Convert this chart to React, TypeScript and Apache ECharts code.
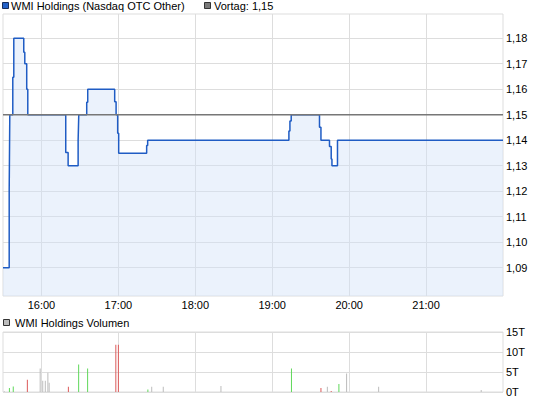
import { useEffect, useRef } from "react";
import * as echarts from "echarts";

// Intraday quotes (time of change, price after the change)
const priceTimes = [
  "15:30:00", "15:34:50", "15:35:18", "15:37:38", "15:38:25", "15:46:12", "15:47:00",
  "15:48:30", "15:49:20", "16:18:56", "16:20:48", "16:28:36", "16:29:06", "16:35:18",
  "16:36:05", "16:57:07", "16:58:13", "16:59:27", "17:00:14", "17:22:03", "17:22:50",
  "19:13:00", "19:13:48", "19:14:48", "19:36:52", "19:38:00", "19:44:40", "19:46:00",
  "19:46:35", "19:50:54", "22:00:00",
];
const priceValues = [
  1.09, 1.12, 1.15, 1.1647, 1.18, 1.1745, 1.17,
  1.16, 1.15, 1.1352, 1.13, 1.14, 1.15, 1.1549,
  1.16, 1.1551, 1.15, 1.1427, 1.1349, 1.1379, 1.14,
  1.1436, 1.1475, 1.15, 1.1451, 1.14, 1.1375, 1.1326,
  1.13, 1.14, 1.14,
];
const previousClose = 1.15;
const priceTicks = [1.09, 1.1, 1.11, 1.12, 1.13, 1.14, 1.15, 1.16, 1.17, 1.18];
const priceRange = [1.0789, 1.1895];

// Traded volume per minute; move: u = up tick, d = down tick, n = unchanged
const volumeTimes = [
  "15:31", "15:35", "15:38", "15:49", "15:59", "16:01", "16:03", "16:05", "16:06",
  "16:21", "16:29", "16:36", "16:58", "17:00", "17:23", "17:26", "17:35", "18:20",
  "19:15", "19:38", "19:43", "19:46", "19:52", "19:58", "20:23", "21:43",
];
const volumeValues = [
  200, 1000, 1350, 3050, 5850, 2800, 2800, 4800, 2300,
  1300, 6900, 5850, 11800, 11800, 600, 1300, 1300, 1500,
  5850, 1000, 1300, 250, 2000, 4600, 1300, 500,
];
const volumeMoves = [
  "n", "u", "u", "d", "n", "n", "n", "n", "n",
  "d", "u", "u", "d", "d", "u", "n", "n", "n",
  "u", "d", "n", "d", "u", "n", "n", "n",
];

const sessionStart = "15:30";
const sessionEnd = "22:00";
const hourTicks = ["16:00", "17:00", "18:00", "19:00", "20:00", "21:00"];

const FONT = "'Liberation Sans', Arial, sans-serif";
const GRID_LINE = "#dddddd";
const moveColors: Record<string, string> = { u: "#5fd85a", d: "#dc5a5a", n: "#bcbcbc" };

const toMinutes = (s: string) => {
  const [h, m, sec] = s.split(":").map(Number);
  return h * 60 + m + (sec || 0) / 60;
};
const fmtClock = (v: number) => {
  const h = Math.floor(v / 60);
  const m = Math.round(v - h * 60);
  return `${h}:${String(m).padStart(2, "0")}`;
};

export default function App() {
  const ref = useRef<HTMLDivElement>(null);

  useEffect(() => {
    if (!ref.current) return;
    const chart = echarts.init(ref.current, undefined, { renderer: "svg" });

    const xMin = toMinutes(sessionStart);
    const xMax = toMinutes(sessionEnd);
    const tickVals = hourTicks.map(toMinutes);

    const xAxisBase = {
      type: "value" as const,
      min: xMin,
      max: xMax,
      axisLine: { show: false },
      axisTick: { show: false, customValues: tickVals },
      splitLine: { show: true, lineStyle: { color: GRID_LINE, width: 1 } },
    };

    chart.setOption({
      animation: false,
      textStyle: { fontFamily: FONT },
      grid: [
        { left: 3, right: 42, top: 14, bottom: 105, show: true, borderColor: GRID_LINE, borderWidth: 1, backgroundColor: "transparent" },
        { left: 3, right: 42, top: 332, bottom: 9, show: true, borderColor: GRID_LINE, borderWidth: 1, backgroundColor: "transparent" },
      ],
      xAxis: [
        {
          ...xAxisBase,
          gridIndex: 0,
          axisLabel: {
            show: true,
            customValues: tickVals,
            formatter: (v: number) => fmtClock(v),
            color: "#000",
            fontSize: 11,
            fontFamily: FONT,
            margin: 3,
          },
        },
        {
          ...xAxisBase,
          gridIndex: 1,
          axisLabel: { show: false, customValues: tickVals },
        },
      ],
      yAxis: [
        {
          type: "value",
          gridIndex: 0,
          position: "right",
          min: priceRange[0],
          max: priceRange[1],
          axisLine: { show: false },
          axisTick: { show: false, customValues: priceTicks },
          axisLabel: {
            customValues: priceTicks,
            formatter: (v: number) => v.toFixed(2).replace(".", ","),
            color: "#000",
            fontSize: 11,
            fontFamily: FONT,
            margin: 3,
          },
          splitLine: { show: true, lineStyle: { color: GRID_LINE } },
        },
        {
          type: "value",
          gridIndex: 1,
          position: "right",
          min: 0,
          max: 15000,
          interval: 5000,
          axisLine: { show: false },
          axisTick: { show: false },
          axisLabel: {
            formatter: (v: number) => `${Math.round(v / 1000)}T`,
            color: "#000",
            fontSize: 11,
            fontFamily: FONT,
            margin: 3,
          },
          splitLine: { show: true, lineStyle: { color: GRID_LINE } },
        },
      ],
      series: [
        {
          type: "line",
          xAxisIndex: 0,
          yAxisIndex: 0,
          step: "end",
          symbol: "none",
          z: 2,
          data: priceTimes.map((t, i) => [toMinutes(t), priceValues[i]]),
          lineStyle: { color: "#1f5cc4", width: 1.5 },
          areaStyle: { color: "rgba(212,226,248,0.65)", origin: "start" },
        },
        {
          type: "line",
          xAxisIndex: 0,
          yAxisIndex: 0,
          symbol: "none",
          z: 3,
          data: [[xMin, previousClose], [xMax, previousClose]],
          lineStyle: { color: "#777777", width: 1.5 },
        },
        {
          type: "bar",
          xAxisIndex: 1,
          yAxisIndex: 1,
          barWidth: 1,
          data: volumeTimes.map((t, i) => ({
            value: [toMinutes(t), volumeValues[i]],
            itemStyle: { color: moveColors[volumeMoves[i]] },
          })),
        },
      ],
      graphic: [
        { type: "rect", shape: { x: 2.5, y: 2.5, width: 6, height: 6 }, style: { fill: "#2462c9", stroke: "#172d5c", lineWidth: 1 } },
        { type: "text", x: 11, y: 6, style: { text: "WMI Holdings (Nasdaq OTC Other)", font: `11px ${FONT}`, fill: "#000", verticalAlign: "middle" } },
        { type: "rect", shape: { x: 204.5, y: 2.5, width: 6, height: 6 }, style: { fill: "#7a7a7a", stroke: "#333", lineWidth: 1 } },
        { type: "text", x: 214, y: 6, style: { text: "Vortag: 1,15", font: `11px ${FONT}`, fill: "#000", verticalAlign: "middle" } },
        { type: "rect", shape: { x: 3.5, y: 319.5, width: 6, height: 6 }, style: { fill: "#bdbdbd", stroke: "#333", lineWidth: 1 } },
        { type: "text", x: 15, y: 323, style: { text: "WMI Holdings Volumen", font: `11px ${FONT}`, fill: "#000", verticalAlign: "middle" } },
      ],
    });

    return () => chart.dispose();
  }, []);

  return <div ref={ref} style={{ width: 545, height: 401, position: "absolute", left: 0, top: 0 }} />;
}
